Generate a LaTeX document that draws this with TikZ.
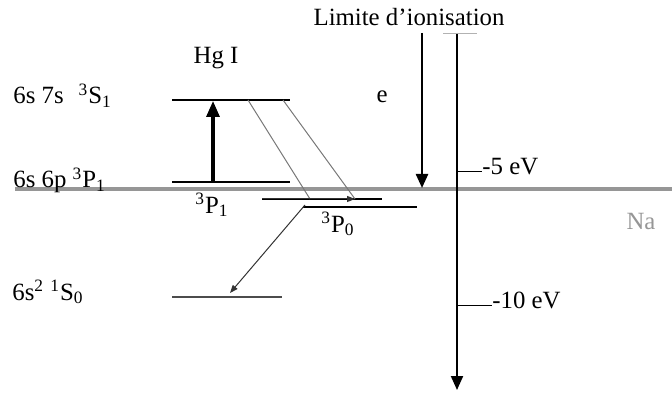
\documentclass[tikz,border=0pt]{standalone}
\usepackage{fontspec}
\setmainfont{Liberation Serif}
\usepackage{tikz}
\usetikzlibrary{arrows.meta, positioning}
\definecolor{HgGray}{RGB}{120,120,120}
\definecolor{NaGray}{RGB}{150,150,150}

\begin{document}
\begin{tikzpicture}[x=0.5pt, y=-0.5pt,
          lvl/.style={draw=black, line width=0.7pt},
          diag/.style={draw=HgGray, line width=0.5pt},
          lbl/.style={font=\fontsize{12.4}{14}\selectfont, inner sep=0pt},
          arr/.style={-{Triangle[length=7pt, width=6pt]}, draw=black, line width=1.2pt},
          thinarr/.style={-{Triangle[length=4pt, width=3pt]}, draw=black!80, line width=0.5pt}
        ]
        \useasboundingbox (0,0) rectangle (672,394);

        % levels of Hg I
        \coordinate (s7a) at (172,100);  \coordinate (s7b) at (290,100);
        \coordinate (p1a) at (172,182);  \coordinate (p1b) at (290,182);
        \coordinate (ma)  at (262,199);  \coordinate (mb)  at (355,199);
        \coordinate (mc)  at (382,199);
        \coordinate (p0a) at (303,207);  \coordinate (p0b) at (417,207);
        \coordinate (s0a) at (172,297);  \coordinate (s0b) at (282,297);

        % Na level line
        \coordinate (na) at (15,189);    \coordinate (nb) at (672,189);

        % axis and ionisation limit
        \coordinate (axt) at (457,33);   \coordinate (axb) at (457,390);
        \coordinate (iont) at (422,33);  \coordinate (ionb) at (422,188);
        \coordinate (t5a) at (457,172);  \coordinate (t5b) at (482,172);
        \coordinate (t10a) at (457,305); \coordinate (t10b) at (492,305);

        \draw[draw=NaGray, line width=1.8pt] (na) -- (nb);

        \draw[lvl] (s7a) -- (s7b);
        \draw[lvl] (p1a) -- (p1b);
        \draw[lvl] (ma)  -- (mc);
        \draw[lvl] (p0a) -- (p0b);
        \draw[lvl, draw=black!70] (s0a) -- (s0b);

        % cascades
        \coordinate (d1t) at (248,100);  \coordinate (d1b) at (310,199);
        \coordinate (d2t) at (283,100);  \coordinate (d2b) at (355,199);
        \coordinate (upb) at (213,181);  \coordinate (upt) at (213,101);
        \coordinate (dla) at (305,205);  \coordinate (dlb) at (230,293);

        \draw[diag] (d1t) -- (d1b);
        \draw[diag] (d2t) -- (d2b);
        \draw[-{Triangle[length=8pt, width=6.5pt]}, line width=1.6pt] (upb) -- (upt);
        \draw[thinarr] (ma) -- (mb);
        \draw[thinarr] (dla) -- (dlb);

        \draw[arr] (iont) -- (ionb);
        \draw[arr, line width=1pt] (axt) -- (axb);
        \draw[draw=black!30, line width=0.3pt] (443,33) -- (477,33);
        \draw[line width=0.5pt] (t5a) -- (t5b);
        \draw[line width=0.5pt] (t10a) -- (t10b);

        % labels
        \node[lbl] (ion) at (409,17) {Limite d'ionisation};
        \node[lbl] (hg)  at (216,58) {Hg I};
        \node[lbl, anchor=base west] (l7s) at (13,104) {6s 7s\hspace{0.6em}\textsuperscript{3}S\textsubscript{1}};
        \node[lbl, anchor=base west] (l6p) at (13,188) {6s 6p \textsuperscript{3}P\textsubscript{1}};
        \node[lbl, anchor=base west] (l6s) at (12,300) {6s\textsuperscript{2} \textsuperscript{1}S\textsubscript{0}};
        \node[lbl] (lp1) at (212,205) {\textsuperscript{3}P\textsubscript{1}};
        \node[lbl] (lp0) at (338,224) {\textsuperscript{3}P\textsubscript{0}};
        \node[lbl] (elec) at (382,97) {e};
        \node[lbl, text=NaGray] (na-l) at (641,222) {Na};
        \node[lbl, anchor=west] (e5)  at (482,167) {-5 eV};
        \node[lbl, anchor=west] (e10) at (492,300) {-10 eV};
      \end{tikzpicture}
\end{document}
